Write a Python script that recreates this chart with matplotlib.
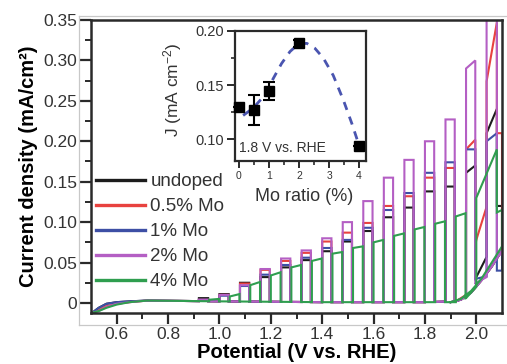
import numpy as np
import matplotlib
matplotlib.use("Agg")
import matplotlib.pyplot as plt
from matplotlib.lines import Line2D
from matplotlib.ticker import FixedLocator

plt.rcParams['font.family'] = ['Liberation Sans', 'DejaVu Sans']
plt.rcParams['mathtext.fontset'] = 'custom'
plt.rcParams['mathtext.rm'] = 'Liberation Sans'
plt.rcParams['mathtext.it'] = 'Liberation Sans:italic'
plt.rcParams['mathtext.bf'] = 'Liberation Sans:bold'

# ---------------- chopped LSV data ----------------
# light-on windows (V): doped/undoped films share one chopping phase, 4% Mo the other
main_on = [0.920, 1.000, 1.080, 1.160, 1.240, 1.320, 1.400, 1.480, 1.560, 1.640, 1.720, 1.800, 1.880, 1.960, 2.040]
main_off = [0.956, 1.036, 1.116, 1.196, 1.276, 1.356, 1.436, 1.516, 1.596, 1.676, 1.756, 1.836, 1.916, 1.996, 2.080]
green_on = [0.960, 1.040, 1.120, 1.200, 1.280, 1.360, 1.440, 1.520, 1.600, 1.680, 1.760, 1.840, 1.920, 2.000]
green_off = [0.998, 1.078, 1.158, 1.238, 1.318, 1.398, 1.478, 1.558, 1.638, 1.718, 1.798, 1.878, 1.958, 2.080]

# illuminated current at light-on and just before light-off (mA/cm2)
undoped_top_on = [0.006, 0.011, 0.025, 0.032, 0.044, 0.053, 0.064, 0.076, 0.089, 0.106, 0.118, 0.138, 0.144, 0.161, 0.210]
undoped_top_off = [0.006, 0.011, 0.025, 0.032, 0.044, 0.053, 0.064, 0.076, 0.089, 0.106, 0.118, 0.138, 0.144, 0.170, 0.240]
mo05_top_on = [0.004, 0.010, 0.024, 0.041, 0.052, 0.062, 0.076, 0.087, 0.099, 0.120, 0.132, 0.155, 0.167, 0.190, 0.274]
mo05_top_off = [0.004, 0.010, 0.024, 0.041, 0.052, 0.062, 0.076, 0.087, 0.099, 0.120, 0.132, 0.155, 0.167, 0.202, 0.347]
mo1_top_on = [0.004, 0.009, 0.021, 0.035, 0.047, 0.056, 0.068, 0.078, 0.093, 0.115, 0.136, 0.161, 0.174, 0.190, 0.200]
mo1_top_off = [0.004, 0.009, 0.021, 0.035, 0.047, 0.056, 0.068, 0.078, 0.093, 0.115, 0.136, 0.161, 0.174, 0.190, 0.210]
mo2_top_on = [0.004, 0.010, 0.022, 0.042, 0.055, 0.065, 0.080, 0.100, 0.126, 0.155, 0.177, 0.200, 0.227, 0.290, 0.420]
mo2_top_off = [0.004, 0.010, 0.022, 0.042, 0.055, 0.065, 0.080, 0.100, 0.126, 0.155, 0.177, 0.200, 0.227, 0.300, 0.420]
mo4_top_on = [0.004, 0.008, 0.022, 0.034, 0.044, 0.052, 0.061, 0.068, 0.075, 0.083, 0.091, 0.098, 0.107, 0.130]
mo4_top_off = [0.005, 0.011, 0.026, 0.038, 0.047, 0.055, 0.063, 0.070, 0.078, 0.086, 0.094, 0.101, 0.111, 0.190]

# dark current along the forward sweep
v_dark = [0.505, 0.53, 0.56, 0.60, 0.65, 0.72, 1.00, 1.40, 1.80, 1.92, 1.96, 2.00, 2.04, 2.08, 2.10]
undoped_dark = [-0.012, -0.006, -0.001, 0.001, 0.002, 0.003, 0.002, 0.001, 0.001, 0.002, 0.008, 0.032, 0.057, 0.120, 0.120]
mo05_dark = [-0.012, -0.009, -0.004, -0.001, 0.001, 0.003, 0.002, 0.001, 0.001, 0.002, 0.010, 0.078, 0.119, 0.210, 0.210]
mo1_dark = [-0.012, -0.006, -0.001, 0.001, 0.002, 0.003, 0.002, 0.001, 0.001, 0.002, 0.008, 0.030, 0.033, 0.040, 0.040]
mo2_dark = [-0.012, -0.010, -0.005, -0.001, 0.001, 0.003, 0.002, 0.001, 0.001, 0.002, 0.008, 0.025, 0.032, 0.060, 0.060]
mo4_dark = [-0.012, -0.010, -0.006, -0.002, 0.001, 0.003, 0.002, 0.001, 0.001, 0.001, 0.006, 0.020, 0.050, 0.112, 0.115]

# reverse (dark) sweep back from 2.1 V
v_ret = [2.10, 2.06, 2.02, 1.98, 1.94, 1.90]
ret_main = [0.065, 0.045, 0.028, 0.013, 0.004, 0.001]
ret_mo4 = [0.070, 0.050, 0.030, 0.015, 0.005, 0.001]

labels = ['undoped', '0.5% Mo', '1% Mo', '2% Mo', '4% Mo']
colors = ['#1c1c1c', '#e8423f', '#3d4fa5', '#b45fc4', '#2f9e4f']

# ---------------- inset data ----------------
mo_ratio = [0, 0.5, 1, 2, 4]
j_18 = [0.1296, 0.127, 0.1444, 0.1886, 0.0935]
j_18_err = [0.0, 0.014, 0.0085, 0.003, 0.0]
trend_x = [0.14, 0.48, 0.76, 0.92, 1.14, 1.42, 1.70, 1.98, 2.26, 2.53, 2.81, 3.14, 3.48, 3.76, 3.98]
trend_y = [0.122, 0.129, 0.1377, 0.1438, 0.156, 0.170, 0.181, 0.188, 0.1886, 0.184, 0.175, 0.159, 0.136, 0.1145, 0.096]


def chopped_trace(vd, jd, ons, offs, top_on, top_off, vr, jr):
    """Polyline of a chopped-light sweep: dark branch, light steps, dark return."""
    vd = np.asarray(vd, float)
    jd = np.asarray(jd, float)
    xs, ys = [], []
    mask = vd < ons[0]
    xs += list(vd[mask]); ys += list(jd[mask])
    for k, (a, b) in enumerate(zip(ons, offs)):
        xs += [a, a, b, b]
        ys += [np.interp(a, vd, jd), top_on[k], top_off[k], np.interp(b, vd, jd)]
        nxt = ons[k + 1] if k + 1 < len(ons) else np.inf
        mask = (vd > b) & (vd < nxt)
        xs += list(vd[mask]); ys += list(jd[mask])
    xs += list(vr); ys += list(jr)
    return xs, ys


W, H = 507, 364
fig = plt.figure(figsize=(W / 100, H / 100), dpi=100)

# thin grey frame around the panel
frame_col = '#c8c8c8'
fx0, fy0, fy1 = 79 / W, 1 - 325 / H, 1 - 16 / H
fig.add_artist(Line2D([fx0, fx0], [fy0, fy1], color=frame_col, lw=0.9, transform=fig.transFigure))
fig.add_artist(Line2D([fx0, 1.0], [fy1, fy1], color=frame_col, lw=0.9, transform=fig.transFigure))
fig.add_artist(Line2D([fx0, 1.0], [fy0, fy0], color=frame_col, lw=0.9, transform=fig.transFigure))

ax = fig.add_axes([91 / W, 1 - 313 / H, 411 / W, 293 / H])

series = [
    (undoped_dark, main_on, main_off, undoped_top_on, undoped_top_off, ret_main),
    (mo05_dark, main_on, main_off, mo05_top_on, mo05_top_off, ret_main),
    (mo1_dark, main_on, main_off, mo1_top_on, mo1_top_off, ret_main),
    (mo2_dark, main_on, main_off, mo2_top_on, mo2_top_off, ret_main),
    (mo4_dark, green_on, green_off, mo4_top_on, mo4_top_off, ret_mo4),
]
zorders = [2, 2.1, 2.2, 2.3, 2.4]
handles = []
for (jd, ons, offs, ton, toff, jr), lab, col, zo in zip(series, labels, colors, zorders):
    x, y = chopped_trace(v_dark, jd, ons, offs, ton, toff, v_ret, jr)
    ax.plot(x, y, color=col, lw=1.5, zorder=zo, solid_joinstyle='miter')
    handles.append(Line2D([], [], color=col, lw=2.4))

ax.set_xlim(0.5, 2.1)
ax.set_ylim(-0.0124, 0.35)

spine_col = '#2a2a2a'
for s in ax.spines.values():
    s.set_linewidth(1.8)
    s.set_color(spine_col)
    s.set_zorder(3)

ax.xaxis.set_major_locator(FixedLocator([0.6, 0.8, 1.0, 1.2, 1.4, 1.6, 1.8, 2.0]))
ax.xaxis.set_minor_locator(FixedLocator([0.7, 0.9, 1.1, 1.3, 1.5, 1.7, 1.9]))
ax.set_xticklabels(['0.6', '0.8', '1.0', '1.2', '1.4', '1.6', '1.8', '2.0'])
yt = [0, 0.05, 0.10, 0.15, 0.20, 0.25, 0.30, 0.35]
ax.yaxis.set_major_locator(FixedLocator(yt))
ax.yaxis.set_minor_locator(FixedLocator([0.025, 0.075, 0.125, 0.175, 0.225, 0.275, 0.325]))
ax.set_yticklabels(['0', '0.05', '0.10', '0.15', '0.20', '0.25', '0.30', '0.35'])
ax.tick_params(which='major', direction='out', length=8, width=1.6, color=spine_col,
               labelsize=12.5, labelcolor='#333333', pad=2)
ax.tick_params(which='minor', direction='out', length=4.5, width=1.4, color=spine_col)

ax.set_xlabel('Potential (V vs. RHE)', fontsize=14.5, fontweight='bold', labelpad=1)
ax.set_ylabel('Current density (mA/cm²)', fontsize=14.5, fontweight='bold', labelpad=4)

leg = ax.legend(handles, labels, loc='upper left', bbox_to_anchor=(0.012, 0.478),
                frameon=False, fontsize=13.5, handlelength=2.6, handletextpad=0.3,
                labelspacing=0.42, borderpad=0, borderaxespad=0)
for t in leg.get_texts():
    t.set_color('#333333')

# ---------------- inset ----------------
axi = fig.add_axes([235 / W, 1 - 161 / H, 131 / W, 130 / H])
axi.plot(trend_x, trend_y, color='#4a55b0', lw=2.0, ls=(0, (3.0, 2.6)), zorder=2)
axi.errorbar(mo_ratio, j_18, yerr=j_18_err, fmt='s', color='black', ms=7.5,
             capsize=4, elinewidth=1.5, capthick=1.5, zorder=3, clip_on=False)
axi.set_xlim(-0.13, 4.23)
axi.set_ylim(0.08, 0.20)
for s in axi.spines.values():
    s.set_linewidth(1.6)
    s.set_color(spine_col)
axi.xaxis.set_major_locator(FixedLocator([0, 1, 2, 3, 4]))
axi.xaxis.set_minor_locator(FixedLocator([0.5, 1.5, 2.5, 3.5]))
axi.yaxis.set_major_locator(FixedLocator([0.10, 0.15, 0.20]))
axi.yaxis.set_minor_locator(FixedLocator([0.125, 0.175]))
axi.set_yticklabels(['0.10', '0.15', '0.20'])
axi.tick_params(axis='y', which='major', direction='out', length=6, width=1.4,
                color=spine_col, labelsize=10.5, labelcolor='#333333', pad=2)
axi.tick_params(axis='x', which='major', direction='out', length=5, width=1.4,
                color=spine_col, labelsize=7.5, labelcolor='#333333', pad=2)
axi.tick_params(which='minor', direction='out', length=3, width=1.2, color=spine_col)
axi.set_xlabel('Mo ratio (%)', fontsize=13, color='#333333', va='center')
axi.xaxis.set_label_coords(0.53, -0.27)
axi.set_ylabel('J (mA cm$^{-2}$)', fontsize=12.5, color='#333333', va='center')
axi.yaxis.set_label_coords(-0.48, 0.55)
axi.text(0.03, 0.10, '1.8 V vs. RHE', transform=axi.transAxes, fontsize=10,
         color='#333333', va='center', ha='left')

fig.savefig('out.png', dpi=100)
